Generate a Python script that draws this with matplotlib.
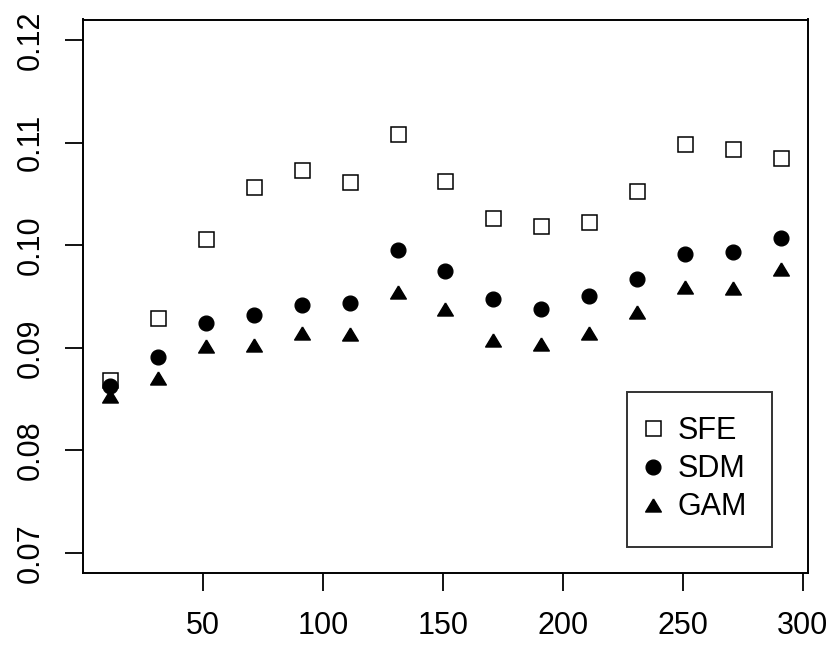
import numpy as np
import matplotlib
matplotlib.use('Agg')
import matplotlib.pyplot as plt

plt.rcParams['font.family'] = ['Liberation Sans', 'DejaVu Sans']

x = [11, 31, 51, 71, 91, 111, 131, 151, 171, 191, 211, 231, 251, 271, 291]
sfe = [0.0869, 0.0929, 0.1006, 0.1057, 0.1073, 0.1062, 0.1108, 0.1063,
       0.1027, 0.1019, 0.1023, 0.1053, 0.1099, 0.1094, 0.1085]
sdm = [0.0863, 0.0891, 0.0924, 0.0932, 0.0942, 0.0944, 0.0995, 0.0975,
       0.0948, 0.0938, 0.0950, 0.0967, 0.0991, 0.0993, 0.1007]
gam = [0.0853, 0.0871, 0.0902, 0.0903, 0.0914, 0.0913, 0.0954, 0.0938,
       0.0908, 0.0904, 0.0914, 0.0935, 0.0959, 0.0958, 0.0977]
labels = ['SFE', 'SDM', 'GAM']
xticks = [50, 100, 150, 200, 250, 300]
yticks = [0.07, 0.08, 0.09, 0.10, 0.11, 0.12]

# R-style filled triangle (a bit wider than tall)
tri = [(0, 0.83), (-1, -0.83), (1, -0.83), (0, 0.83)]

fig = plt.figure(figsize=(8.28, 6.5), dpi=100)
ax = fig.add_axes([0.1002, 0.1177, 0.8756, 0.8523])

ax.plot(x, sfe, linestyle='none', marker='s', markersize=10.8,
        markerfacecolor='white', markeredgecolor='black', markeredgewidth=1.1,
        label=labels[0])
ax.plot(x, sdm, linestyle='none', marker='o', markersize=10.6,
        color='black', label=labels[1])
ax.plot(x, gam, linestyle='none', marker=tri, markersize=11.3,
        color='black', label=labels[2])

ax.set_xlim(11 - 0.04 * 280, 291 + 0.04 * 280)
ax.set_ylim(0.068, 0.122)
ax.set_xticks(xticks)
ax.set_xticklabels([str(t) for t in xticks])
ax.set_yticks(yticks)
ax.set_yticklabels(['%.2f' % t for t in yticks], rotation=90, va='center')

ax.tick_params(direction='out', length=13, width=1.3, labelsize=22, pad=14,
               color='black')
for s in ax.spines.values():
    s.set_linewidth(1.4)
    s.set_color('black')

leg = ax.legend(loc='lower right', bbox_to_anchor=(0.950, 0.048),
                frameon=True, fancybox=False, fontsize=22, numpoints=1,
                handlelength=0.05, handletextpad=0.8, labelspacing=0.27,
                borderpad=0.8, borderaxespad=0)
leg.get_frame().set_edgecolor('black')
leg.get_frame().set_linewidth(1.4)

fig.savefig('out.png', dpi=100)
